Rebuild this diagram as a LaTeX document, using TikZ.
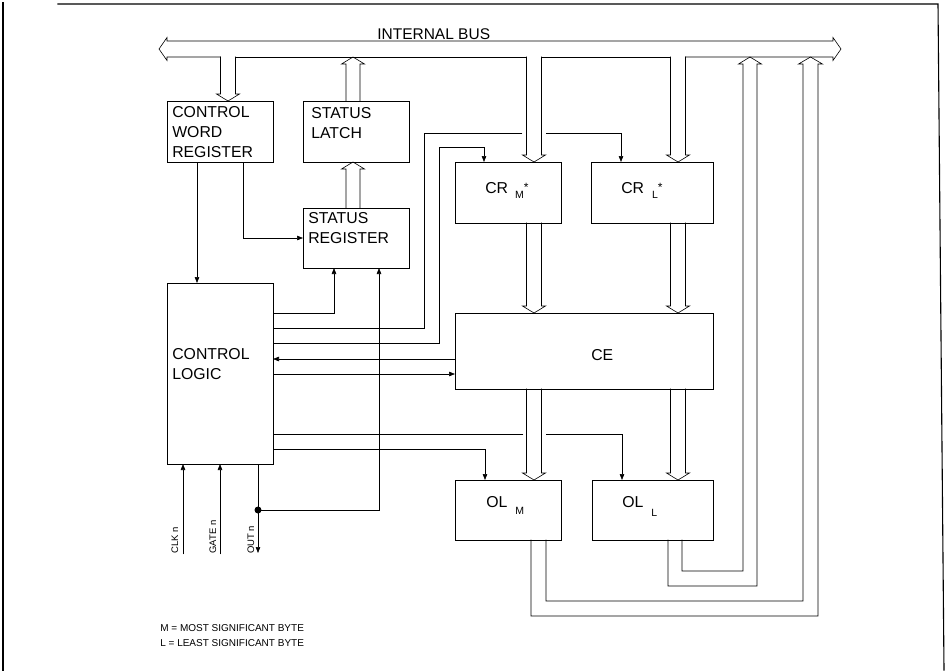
\documentclass[tikz,border=0pt]{standalone}
\usepackage{fontspec}
\setmainfont{Liberation Sans}
\usetikzlibrary{arrows.meta,calc}

\begin{document}
\begin{tikzpicture}[x=1pt, y=-1pt, line width=0.6pt, line cap=rect,
  box/.style={draw, inner sep=0pt, outer sep=0pt},
  lbl/.style={inner sep=0pt, anchor=base west, align=left, font=\fontsize{15.8}{20}\selectfont},
  pin/.style={inner sep=0pt, anchor=base west, rotate=90, font=\fontsize{9.5}{11}\selectfont},
  sig/.style={-{Triangle[length=6pt,width=4.5pt]}},
  busdn/.pic={\draw (-7.5,-#1) -- (-7.5,-7) -- (-11.5,-7) -- (0,0) -- (11.5,-7) -- (7.5,-7) -- (7.5,-#1);},
  busup/.pic={\draw (-7,0) -- (-7,7-#1) -- (-11.5,7-#1) -- (0,-#1) -- (11.5,7-#1) -- (7,7-#1) -- (7,0);}]
  \useasboundingbox (0,0) rectangle (945,670);
  % page frame
  \draw[line width=1.1pt] (3,3) -- (3,670);
  \draw[line width=1.1pt] (58,4) -- (938,4) -- (944,670);

  % blocks
  \node[box, minimum width=106pt, minimum height=61pt] (cwr) at (220,131.5) {};
  \node[box, minimum width=106pt, minimum height=61pt] (sl) at (356,131.5) {};
  \node[box, minimum width=106pt, minimum height=60pt] (sr) at (356,238) {};
  \node[box, minimum width=106pt, minimum height=181pt] (cl) at (220,373.5) {};
  \node[box, minimum width=106pt, minimum height=61pt] (crm) at (508,192.5) {};
  \node[box, minimum width=122pt, minimum height=61pt] (crl) at (652,192.5) {};
  \node[box, minimum width=258pt, minimum height=76pt] (ce) at (584,351) {};
  \node[box, minimum width=106pt, minimum height=60pt] (olm) at (508,510) {};
  \node[box, minimum width=121pt, minimum height=60pt] (oll) at (652.5,510) {};

  % block texts (anchored on the last line)
  \node[lbl] (cwrt) at (172,157) {CONTROL\\WORD\\REGISTER};
  \node[lbl] (slt) at (311,138) {STATUS\\LATCH};
  \node[lbl] (srt) at (308,243) {STATUS\\REGISTER};
  \node[lbl] (clt) at (172,379) {CONTROL\\LOGIC};
  \node[lbl] (crmt) at (485,193) {CR\hspace{7pt}\raisebox{-5pt}{\fontsize{10.5}{10}\selectfont M}\raisebox{2pt}{\fontsize{12}{12}\selectfont *}};
  \node[lbl] (crlt) at (621,193) {CR\hspace{8pt}\raisebox{-5pt}{\fontsize{10.5}{10}\selectfont L}\raisebox{2pt}{\fontsize{12}{12}\selectfont *}};
  \node[lbl] (cet) at (591,360) {CE};
  \node[lbl] (olmt) at (486,507) {OL\hspace{8pt}\raisebox{-7pt}{\fontsize{10.5}{10}\selectfont M}};
  \node[lbl] (ollt) at (622,507) {OL\hspace{8pt}\raisebox{-9pt}{\fontsize{10.5}{10}\selectfont L}};

  % internal bus
  \node[lbl, font=\fontsize{15.5}{18}\selectfont] (buslbl) at (377,39) {INTERNAL BUS};
  \draw (220.5,57) -- (167,57) -- (167,60.5) -- (159,49) -- (167,37.5) -- (167,41) -- (833,41)
    -- (833,37.5) -- (841,49) -- (833,60.5) -- (833,57) -- (685.5,57);
  \draw (235.5,57) -- (526.5,57) (541.5,57) -- (670.5,57);
  \pic at ([xshift=8pt]cwr.north) {busdn=44};
  \pic at ([xshift=26pt]crm.north) {busdn=105};
  \pic at ([xshift=26pt]crl.north) {busdn=105};
  \pic at ([xshift=-3pt]sl.north) {busup=44};
  \pic at ([xshift=-3pt]sr.north) {busup=46};
  % counter data path
  \pic at ([xshift=79pt]ce.north west) {busdn=90};
  \pic at ([xshift=223pt]ce.north west) {busdn=90};
  \pic at ([xshift=26pt]olm.north) {busdn=91};
  \pic at ([xshift=86pt]oll.north west) {busdn=91};
  % output latches back to the bus
  \draw ([xshift=90pt]oll.south west) |- (743,571) -- (743,64) -- (738.5,64) -- (750,57)
    -- (761.5,64) -- (757,64) |- (668,586) -- ([xshift=76pt]oll.south west);
  \draw ([xshift=91pt]olm.south west) |- (803,601) -- (803,64) -- (798.5,64) -- (810.5,57)
    -- (822.5,64) -- (818,64) |- (531,616) -- ([xshift=76pt]olm.south west);

  % control word register outputs
  \draw[sig] ([xshift=30pt]cwr.south west) -- ([xshift=30pt]cl.north west);
  \draw[sig] ([xshift=76pt]cwr.south west) |- (sr.west);
  % control logic outputs
  \draw[sig] ([yshift=-30pt]cl.north east) -| ([xshift=31pt]sr.south west);
  \draw ([yshift=-45pt]cl.north east) -| (424,133) -- (522,133);
  \draw[sig] (546,133) -| ([xshift=30pt]crl.north west);
  \draw[sig] ([yshift=-60pt]cl.north east) -| (439,147) -| ([xshift=29pt]crm.north west);
  \draw[sig] ([yshift=-46pt]ce.north west) -- ([yshift=-76pt]cl.north east);
  \draw[sig] ([yshift=-91pt]cl.north east) -- ([yshift=-61pt]ce.north west);
  \draw ([yshift=-151pt]cl.north east) -- (523,434);
  \draw[sig] (546,434) -| ([xshift=30pt]oll.north west);
  \draw[sig] ([yshift=-166pt]cl.north east) -| ([xshift=30pt]olm.north west);

  % pins
  \coordinate (clk) at (183,554);
  \coordinate (gate) at (220,554);
  \coordinate (out) at (258,553);
  \coordinate (tap) at (258,510);
  \draw[sig] (clk) -- (clk |- cl.south);
  \draw[sig] (gate) -- (cl.south);
  \draw[sig] (out |- cl.south) -- (out);
  \fill (tap) circle (3.5pt);
  \draw[sig] (tap) -| ([xshift=76pt]sr.south west);
  \node[pin] (clkt) at (178,554) {CLK n};
  \node[pin] (gatet) at (216,554) {GATE n};
  \node[pin] (outt) at (254,554) {OUT n};

  % key
  \node[lbl, font=\fontsize{10}{15}\selectfont] (key) at (160,646.5) {M = MOST SIGNIFICANT BYTE\\L = LEAST SIGNIFICANT BYTE};
\end{tikzpicture}
\end{document}
